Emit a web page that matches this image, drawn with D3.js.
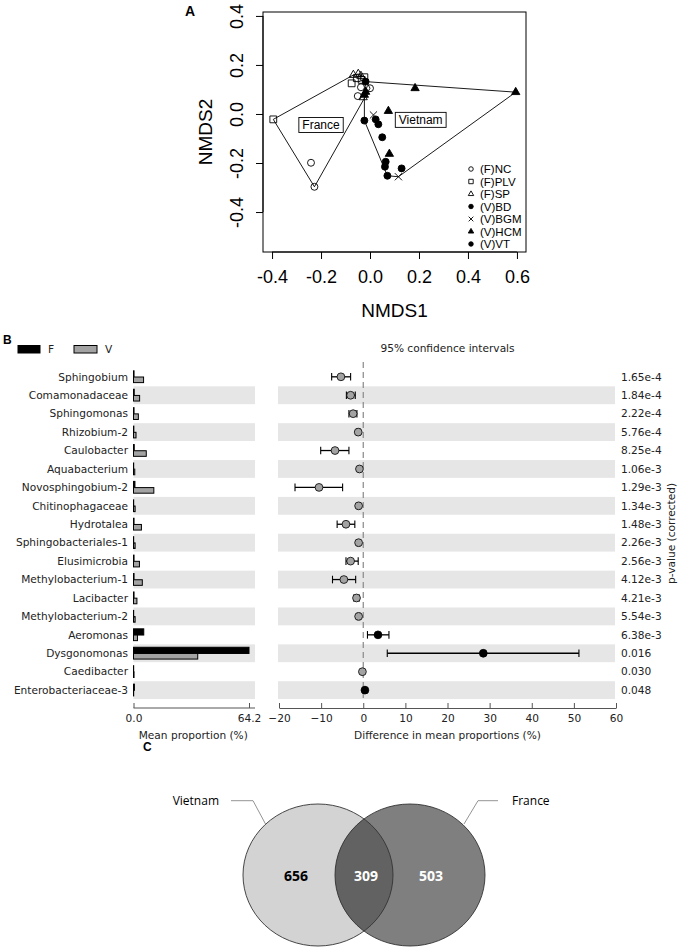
<!DOCTYPE html>
<html><head><meta charset="utf-8">
<script src="https://cdn.jsdelivr.net/npm/d3@7"></script>
<style>body{margin:0;background:#fff}svg{display:block}</style>
</head><body><svg id="chart" width="680" height="949"></svg>
<script>
// ---------- Panel A data (NMDS) ----------
const groupNames = ["(F)NC","(F)PLV","(F)SP","(V)BD","(V)BGM","(V)HCM","(V)VT"];
const ptGroup = [
  "(F)NC","(F)NC","(F)NC","(F)NC","(F)NC",
  "(F)PLV","(F)PLV","(F)PLV","(F)PLV","(F)PLV",
  "(F)SP","(F)SP","(F)SP","(F)SP",
  "(V)BD","(V)BD","(V)BD","(V)BD","(V)BD",
  "(V)VT","(V)VT","(V)VT","(V)VT",
  "(V)BGM","(V)BGM",
  "(V)HCM","(V)HCM","(V)HCM","(V)HCM","(V)HCM","(V)HCM"
];
const ptX = [
  -0.241,-0.227,-0.050,-0.037,0.000,
  -0.395,-0.075,-0.054,-0.034,-0.023,
  -0.068,-0.048,-0.037,-0.028,
  -0.018,-0.023,0.023,0.034,0.050,
  0.064,0.061,0.071,0.129,
  0.014,0.116,
  -0.023,-0.018,0.075,0.079,0.184,0.595
];
const ptY = [
  -0.199,-0.297,0.073,0.109,0.105,
  -0.022,0.125,0.146,0.139,0.150,
  0.159,0.163,0.155,0.068,
  0.132,-0.027,-0.022,-0.042,-0.095,
  -0.195,-0.215,-0.252,-0.222,
  -0.004,-0.256,
  0.078,0.090,0.012,-0.163,0.105,0.089
];
const regionNames = ["France","Vietnam"];
const regionPrefix = ["(F)","(V)"];
const regionLabelX = [-0.200, 0.207];
const regionLabelY = [-0.045, -0.024];
const xTicksA = [-0.4,-0.2,0.0,0.2,0.4,0.6];
const yTicksA = [-0.4,-0.2,0.0,0.2,0.4];

// ---------- Panel B data (STAMP) ----------
const taxa = ["Sphingobium","Comamonadaceae","Sphingomonas","Rhizobium-2","Caulobacter",
  "Aquabacterium","Novosphingobium-2","Chitinophagaceae","Hydrotalea","Sphingobacteriales-1",
  "Elusimicrobia","Methylobacterium-1","Lacibacter","Methylobacterium-2","Aeromonas",
  "Dysgonomonas","Caedibacter","Enterobacteriaceae-3"];
const meanF = [0.3,0.4,0.3,0.2,0.4,0.1,0.8,0.1,0.3,0.1,0.3,0.3,0.3,0.1,5.7,64.2,0.1,0.5];
const meanV = [5.6,3.4,2.7,1.4,7.1,0.7,11.3,0.9,4.4,0.9,3.3,4.9,1.9,0.9,2.2,35.7,0.3,0.1];
const diffMean = [-5.3,-3.0,-2.4,-1.2,-6.7,-0.9,-10.5,-1.1,-4.1,-1.1,-3.0,-4.6,-1.6,-1.1,3.5,28.5,-0.2,0.4];
const ciLow  = [-7.5,-4.0,-3.4,-1.6,-10.1,-1.2,-16.2,-1.4,-6.2,-1.4,-4.1,-7.3,-2.2,-1.4,1.0,5.7,-0.3,0.3];
const ciHigh = [-3.0,-1.9,-1.5,-0.8,-3.4,-0.6,-4.9,-0.8,-2.0,-0.8,-1.2,-1.8,-1.0,-0.8,6.1,51.2,-0.1,0.5];
const pValues = ["1.65e-4","1.84e-4","2.22e-4","5.76e-4","8.25e-4","1.06e-3","1.29e-3","1.34e-3",
  "1.48e-3","2.26e-3","2.56e-3","4.12e-3","4.21e-3","5.54e-3","6.38e-3","0.016","0.030","0.048"];
const seriesNames = ["F","V"];
const barTicks = [0, 64.2];
const diffTicks = [-20,-10,0,10,20,30,40,50,60];

// ---------- Panel C data (Venn) ----------
const vennLabels = ["Vietnam","France"];
const vennCounts = [656, 309, 503]; // Vietnam only, shared, France only

// ================= drawing =================
const svg = d3.select("#chart");
const fA = "'Liberation Sans', Arial, sans-serif";
const fB = "'DejaVu Sans', sans-serif";
const fC = "'Open Sans', sans-serif";

// ----- Panel A -----
const gA = svg.append("g");
const xA = d3.scaleLinear().domain([-0.437, 0.637]).range([263, 526]);
const yA = d3.scaleLinear().domain([-0.563, 0.416]).range([252, 12]);

gA.append("text").attr("x",185).attr("y",16).attr("font-family",fA).attr("font-weight","bold")
  .attr("font-size",14).text("A");

gA.append("rect").attr("x",xA.range()[0]).attr("y",yA.range()[1])
  .attr("width",xA.range()[1]-xA.range()[0]).attr("height",yA.range()[0]-yA.range()[1])
  .attr("fill","none").attr("stroke","#000").attr("stroke-width",1);

const fmtA = d => d3.format(".1f")(d).replace("\u2212","-");
const axX = gA.append("g").attr("transform",`translate(0,${yA.range()[0]})`)
  .call(d3.axisBottom(xA).tickValues(xTicksA).tickFormat(fmtA).tickSize(7).tickPadding(11).tickSizeOuter(0));
axX.select(".domain").attr("d",`M${xA(-0.4)},0H${xA(0.6)}`);
axX.selectAll("text").attr("font-family",fA).attr("font-size",18).attr("fill","#000");
axX.selectAll("line").attr("stroke","#000");

const axY = gA.append("g").attr("transform",`translate(${xA.range()[0]},0)`)
  .call(d3.axisLeft(yA).tickValues(yTicksA).tickFormat(fmtA).tickSize(7).tickSizeOuter(0));
axY.select(".domain").attr("d",`M0,${yA(-0.4)}V${yA(0.4)}`);
axY.selectAll("line").attr("stroke","#000");
axY.selectAll("text").attr("font-family",fA).attr("font-size",18).attr("fill","#000")
  .attr("x",null).attr("dy",null).attr("text-anchor","middle")
  .attr("transform","translate(-20,0) rotate(-90)");

gA.append("text").attr("x",(xA.range()[0]+xA.range()[1])/2).attr("y",317)
  .attr("text-anchor","middle").attr("font-family",fA).attr("font-size",19).text("NMDS1");
gA.append("text").attr("transform",`translate(212,${(yA.range()[0]+yA.range()[1])/2}) rotate(-90)`)
  .attr("text-anchor","middle").attr("font-family",fA).attr("font-size",19).text("NMDS2");

const pts = ptX.map((x,i)=>({x, y:ptY[i], g:ptGroup[i]}));

// hulls
regionPrefix.forEach((pre)=>{
  const hp = pts.filter(p=>p.g.startsWith(pre)).map(p=>[xA(p.x),yA(p.y)]);
  const hull = d3.polygonHull(hp);
  gA.append("path").attr("d","M"+hull.join("L")+"Z").attr("fill","none")
    .attr("stroke","#000").attr("stroke-width",0.9);
});

function symPath(g, s){
  switch(g){
    case "(F)NC": case "(V)BD": case "(V)VT": return d3.symbol(d3.symbolCircle, 38*s*s)();
    case "(F)PLV": return d3.symbol(d3.symbolSquare, 46*s*s)();
    case "(F)SP": case "(V)HCM": return d3.symbol(d3.symbolTriangle, 30*s*s)();
    case "(V)BGM": { const r=3.6*s; return `M${-r},${-r}L${r},${r}M${-r},${r}L${r},${-r}`; }
  }
}
function symStyle(sel, g){
  const filled = g.startsWith("(V)") && g!=="(V)BGM";
  sel.attr("fill", filled ? "#000" : "none").attr("stroke","#000").attr("stroke-width", 0.9);
}
gA.append("g").selectAll("path").data(pts).join("path")
  .attr("transform",d=>`translate(${xA(d.x)},${yA(d.y)})`)
  .attr("d",d=>symPath(d.g,1))
  .each(function(d){symStyle(d3.select(this), d.g);});

// region labels
regionNames.forEach((n,i)=>{
  const cx = xA(regionLabelX[i]), cy = yA(regionLabelY[i]);
  const lg = gA.append("g");
  const r = lg.append("rect");
  const t = lg.append("text").attr("x",cx).attr("y",cy+4.2).attr("text-anchor","middle")
    .attr("font-family",fA).attr("font-size",12).text(n);
  const w = t.node().getComputedTextLength();
  r.attr("x",cx-w/2-3.5).attr("y",cy-7.5).attr("width",w+7).attr("height",15)
    .attr("fill","#fff").attr("stroke","#000").attr("stroke-width",0.9);
});

// legend A
const lgA = gA.append("g");
groupNames.forEach((g,i)=>{
  const yy = 169 + i*12.5;
  const p = lgA.append("path").attr("transform",`translate(471,${yy})`).attr("d",symPath(g,0.65));
  symStyle(p,g);
  lgA.append("text").attr("x",480).attr("y",yy+4.2).attr("font-family",fA).attr("font-size",11.5).text(g);
});

// ----- Panel B -----
const gB = svg.append("g");
gB.append("text").attr("x",3).attr("y",343.5).attr("font-family",fA).attr("font-weight","bold")
  .attr("font-size",12).text("B");

const xBar = d3.scaleLinear().domain([0,64.2]).range([133.5,249]);
const xDiff = d3.scaleLinear().domain([-20,60]).range([279,616]);
const yRow = d3.scaleBand().domain(taxa).range([367.6, 367.6+18*18.43]);
const bw = yRow.bandwidth();
const cy = t => yRow(t)+bw/2;
const grayFill = "#a3a3a3";

// bands
taxa.forEach((t,i)=>{
  if(i%2===1){
    gB.append("rect").attr("x",133.5).attr("y",yRow(t)+0.3).attr("width",255-133.5).attr("height",bw-0.6).attr("fill","#e6e6e6");
    gB.append("rect").attr("x",278).attr("y",yRow(t)+0.3).attr("width",615-278).attr("height",bw-0.6).attr("fill","#e6e6e6");
  }
});

// legend B
gB.append("rect").attr("x",18).attr("y",345.5).attr("width",22).attr("height",7.5).attr("fill","#000").attr("stroke","#000");
gB.append("text").attr("x",48).attr("y",353).attr("font-family",fB).attr("font-size",10.6).attr("fill","#222").text(seriesNames[0]);
gB.append("rect").attr("x",74).attr("y",345.5).attr("width",23).attr("height",7.5).attr("fill",grayFill).attr("stroke","#000");
gB.append("text").attr("x",105).attr("y",353).attr("font-family",fB).attr("font-size",10.6).attr("fill","#222").text(seriesNames[1]);

gB.append("text").attr("x",(279+616)/2).attr("y",352).attr("text-anchor","middle")
  .attr("font-family",fB).attr("font-size",10.6).attr("fill","#222").text("95% confidence intervals");

// labels
gB.append("g").selectAll("text").data(taxa).join("text")
  .attr("x",128).attr("y",d=>cy(d)+3.8).attr("text-anchor","end")
  .attr("font-family",fB).attr("font-size",10.6).attr("fill","#222").text(d=>d);

// bars
gB.append("g").selectAll("rect").data(taxa).join("rect")
  .attr("x",xBar(0)).attr("y",d=>cy(d)-6).attr("height",6.2)
  .attr("width",(d,i)=>xBar(meanF[i])-xBar(0))
  .attr("fill","#000").attr("stroke","#000").attr("stroke-width",1);
gB.append("g").selectAll("rect").data(taxa).join("rect")
  .attr("x",xBar(0)).attr("y",d=>cy(d)+0.2).attr("height",5.6)
  .attr("width",(d,i)=>xBar(meanV[i])-xBar(0))
  .attr("fill",grayFill).attr("stroke","#000").attr("stroke-width",1);

// dashed zero line
gB.append("line").attr("x1",xDiff(0)).attr("x2",xDiff(0)).attr("y1",362).attr("y2",700)
  .attr("stroke","#888").attr("stroke-width",1.2).attr("stroke-dasharray","6,4");

// CIs
const ci = gB.append("g");
taxa.forEach((t,i)=>{
  const y = cy(t);
  ci.append("line").attr("x1",xDiff(ciLow[i])).attr("x2",xDiff(ciHigh[i])).attr("y1",y).attr("y2",y)
    .attr("stroke","#000").attr("stroke-width",1.3);
  [ciLow[i],ciHigh[i]].forEach(v=>{
    ci.append("line").attr("x1",xDiff(v)).attr("x2",xDiff(v)).attr("y1",y-3.8).attr("y2",y+3.8)
      .attr("stroke","#000").attr("stroke-width",1.1);
  });
});
gB.append("g").selectAll("circle").data(taxa).join("circle")
  .attr("cx",(d,i)=>xDiff(diffMean[i])).attr("cy",d=>cy(d)).attr("r",3.9)
  .attr("fill",(d,i)=>diffMean[i]>0?"#000":grayFill).attr("stroke","#000").attr("stroke-width",0.8);

// p-values
gB.append("g").selectAll("text").data(pValues).join("text")
  .attr("x",621).attr("y",(d,i)=>cy(taxa[i])+3.8)
  .attr("font-family",fB).attr("font-size",10.6).attr("fill","#222").text(d=>d);
gB.append("text").attr("transform",`translate(675,${(yRow.range()[0]+yRow.range()[1])/2}) rotate(-90)`)
  .attr("text-anchor","middle").attr("font-family",fB).attr("font-size",10.6).attr("fill","#222").text("p-value (corrected)");

// axes B
const axisY = 708;
const axB1 = gB.append("g").attr("transform",`translate(0,${axisY})`)
  .call(d3.axisBottom(xBar).tickValues(barTicks).tickFormat(d3.format(".1f")).tickSize(-5).tickPadding(6).tickSizeOuter(0));
axB1.select(".domain").attr("d",`M${xBar(0)},0H255`);
const axB2 = gB.append("g").attr("transform",`translate(0,${axisY})`)
  .call(d3.axisBottom(xDiff).tickValues(diffTicks).tickFormat(d3.format("d")).tickSize(-5).tickPadding(6).tickSizeOuter(0));
[axB1,axB2].forEach(a=>{
  a.select(".domain").attr("stroke","#555");
  a.selectAll("line").attr("stroke","#555");
  a.selectAll("text").attr("font-family",fB).attr("font-size",10.6).attr("fill","#222");
});
gB.append("text").attr("x",(xBar(0)+xBar(64.2))/2+2).attr("y",739).attr("text-anchor","middle")
  .attr("font-family",fB).attr("font-size",10.6).attr("fill","#222").text("Mean proportion (%)");
gB.append("text").attr("x",(279+616)/2).attr("y",739).attr("text-anchor","middle")
  .attr("font-family",fB).attr("font-size",10.6).attr("fill","#222").text("Difference in mean proportions (%)");

// ----- Panel C -----
const gC = svg.append("g");
gC.append("text").attr("x",143).attr("y",751).attr("font-family",fA).attr("font-weight","bold")
  .attr("font-size",12).text("C");
const cL = {x:318, y:875}, cR = {x:410, y:875}, rx = 75, ry = 71;
const defs = svg.append("defs");
defs.append("clipPath").attr("id","clipL").append("ellipse")
  .attr("cx",cL.x).attr("cy",cL.y).attr("rx",rx).attr("ry",ry);
gC.append("ellipse").attr("cx",cL.x).attr("cy",cL.y).attr("rx",rx).attr("ry",ry).attr("fill","#d3d3d3");
gC.append("ellipse").attr("cx",cR.x).attr("cy",cR.y).attr("rx",rx).attr("ry",ry).attr("fill","#7f7f7f");
gC.append("ellipse").attr("cx",cR.x).attr("cy",cR.y).attr("rx",rx).attr("ry",ry).attr("fill","#626262")
  .attr("clip-path","url(#clipL)");
[cL,cR].forEach(c=>gC.append("ellipse").attr("cx",c.x).attr("cy",c.y).attr("rx",rx).attr("ry",ry)
  .attr("fill","none").attr("stroke","#333").attr("stroke-width",0.9));

const vennTextX = [296, 366, 431];
vennCounts.forEach((v,i)=>{
  gC.append("text").attr("x",vennTextX[i]).attr("y",881).attr("text-anchor","middle")
    .attr("font-family",fC).attr("font-weight","bold").attr("font-size",14)
    .attr("fill", i===0 ? "#000" : "#fff").text(v);
});
// leader lines and labels
gC.append("path").attr("d","M231,800.7H253L265.5,824").attr("fill","none").attr("stroke","#888").attr("stroke-width",0.9);
gC.append("path").attr("d","M498,800.7H478L464,824").attr("fill","none").attr("stroke","#888").attr("stroke-width",0.9);
gC.append("text").attr("x",219).attr("y",805).attr("text-anchor","end").attr("font-family",fC).attr("font-size",12).text(vennLabels[0]);
gC.append("text").attr("x",512).attr("y",805).attr("font-family",fC).attr("font-size",12).text(vennLabels[1]);
</script></body></html>
